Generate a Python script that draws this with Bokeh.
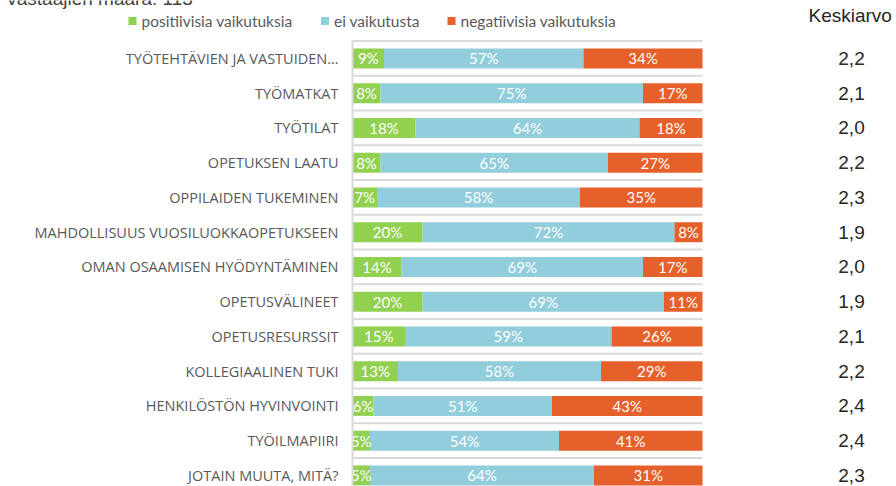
from bokeh.plotting import figure
from bokeh.models import Range1d, ColumnDataSource
from bokeh.core.properties import value
from bokeh.embed import file_html
from bokeh.resources import INLINE

title_text = "Vastaajien määrä: 113"
avg_header = "Keskiarvo"
series_names = ["positiivisia vaikutuksia", "ei vaikutusta", "negatiivisia vaikutuksia"]
categories = [
    "TYÖTEHTÄVIEN JA VASTUIDEN…",
    "TYÖMATKAT",
    "TYÖTILAT",
    "OPETUKSEN LAATU",
    "OPPILAIDEN TUKEMINEN",
    "MAHDOLLISUUS VUOSILUOKKAOPETUKSEEN",
    "OMAN OSAAMISEN HYÖDYNTÄMINEN",
    "OPETUSVÄLINEET",
    "OPETUSRESURSSIT",
    "KOLLEGIAALINEN TUKI",
    "HENKILÖSTÖN HYVINVOINTI",
    "TYÖILMAPIIRI",
    "JOTAIN MUUTA, MITÄ?",
]
positive = [9, 8, 18, 8, 7, 20, 14, 20, 15, 13, 6, 5, 5]
neutral = [57, 75, 64, 65, 58, 72, 69, 69, 59, 58, 51, 54, 64]
negative = [34, 17, 18, 27, 35, 8, 17, 11, 26, 29, 43, 41, 31]
averages = [2.2, 2.1, 2.0, 2.2, 2.3, 1.9, 2.0, 1.9, 2.1, 2.2, 2.4, 2.4, 2.3]

colors = ["#92d050", "#92cddc", "#e5602a"]
GRID = "#d9d9d9"
LABEL_GRAY = "#595959"
W, H = 896, 486

# layout: 0% at 352px, 100% at 702px; row pitch 34.75px, first row centre at 57.9px
X0, XSCALE = 352.0, 3.5
Y0, YSCALE = 57.9, 34.75

def xdata(px):
    return (px - X0) / XSCALE

def ydata(py):
    return (py - Y0) / YSCALE

n = len(categories)
idx = list(range(n))

p = figure(width=W, height=H, output_backend="svg", toolbar_location=None,
           x_range=Range1d(xdata(0), xdata(W)), y_range=Range1d(ydata(H), ydata(0)),
           min_border_left=0, min_border_right=0, min_border_top=0, min_border_bottom=0)
p.outline_line_color = None
p.xgrid.visible = False
p.ygrid.visible = False
p.xaxis.visible = False
p.yaxis.visible = False
p.background_fill_color = "white"
p.border_fill_color = "white"

# horizontal separators between categories
bounds = [i - 0.5 for i in range(n + 1)]
p.segment(x0=[0] * len(bounds), y0=bounds, x1=[100] * len(bounds), y1=bounds,
          line_color=GRID, line_width=2)

left1 = [0] * n
right1 = positive
left2 = positive
right2 = [a + b for a, b in zip(positive, neutral)]
left3 = right2
right3 = [a + b for a, b in zip(right2, negative)]

bh = 0.575
p.hbar(y=idx, left=left1, right=right1, height=bh, fill_color=colors[0], line_color=None)
p.hbar(y=idx, left=left2, right=right2, height=bh, fill_color=colors[1], line_color=None)
p.hbar(y=idx, left=left3, right=right3, height=bh, fill_color=colors[2], line_color=None)

xs, ys, txt = [], [], []
for vals, lefts in ((positive, left1), (neutral, left2), (negative, left3)):
    for i, (v, l) in enumerate(zip(vals, lefts)):
        xs.append(l + v / 2)
        ys.append(i)
        txt.append(f"{v}%")
src = ColumnDataSource(dict(x=xs, y=ys, t=txt))
p.text(x="x", y="y", text="t", source=src, text_align="center", text_baseline="middle",
       text_color="white", text_font=value("Lato"), text_font_size="15px")

# white mask left of the axis (labels overflowing small bars are clipped there)
p.quad(left=[xdata(340)], right=[0], bottom=[ydata(H)], top=[ydata(40)],
       fill_color="white", line_color=None)

# vertical category axis line
p.segment(x0=[0], y0=[ydata(40)], x1=[0], y1=[ydata(H)], line_color=GRID, line_width=2)

# category labels
p.text(x=[xdata(338)] * n, y=idx, text=categories, text_align="right", text_baseline="middle",
       text_color=LABEL_GRAY, text_font=value("Open Sans"), text_font_size="14.5px")

# legend
leg_sq_x = [132, 324.5, 451]
leg_y = 20.5
p.scatter(x=[xdata(v) for v in leg_sq_x], y=[ydata(leg_y)] * 3, marker="square", size=8,
          fill_color=colors, line_color=None)
p.text(x=[xdata(v + 9) for v in leg_sq_x], y=[ydata(leg_y)] * 3, text=series_names,
       text_align="left", text_baseline="middle", text_color=LABEL_GRAY,
       text_font=value("Lato"), text_font_size="15.5px")

# averages column
p.text(x=[xdata(851)] * n, y=idx, text=[f"{a:.1f}".replace(".", ",") for a in averages],
       text_align="center", text_baseline="middle", text_color="#262626",
       text_font=value("Liberation Sans"), text_font_size="19px")
p.text(x=[xdata(808)], y=[ydata(15)], text=[avg_header], text_align="left", text_baseline="middle",
       text_color="#262626", text_font=value("Liberation Sans"), text_font_size="19px")

# title (mostly above the visible area, as in the reference)
p.text(x=[xdata(5)], y=[ydata(-2)], text=[title_text], text_align="left", text_baseline="alphabetic",
       text_color="#404040", text_font=value("Liberation Sans"), text_font_size="19px")

open("out.html", "w").write(file_html(p, INLINE))
